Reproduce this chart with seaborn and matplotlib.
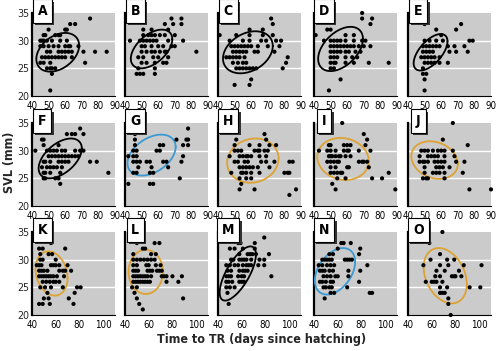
import numpy as np
import pandas as pd
import matplotlib.pyplot as plt
from matplotlib import font_manager as fm
from matplotlib import patheffects as pe
import seaborn as sns

# (days to TR, SVL mm)
A_pts = [(51, 21), (75, 34), (63, 33), (66, 33), (50, 32), (60, 32), (61, 32),
         (47, 31), (48, 31), (54, 31), (56, 31), (57, 31),
         (45, 30), (46, 30), (47, 30), (49, 30), (52, 30), (57, 30), (61, 30),
         (45, 29), (47, 29), (50, 29), (53, 29), (56, 29), (60, 29), (62, 29), (63, 29), (68, 29),
         (49, 28), (51, 28), (56, 28), (58, 28), (60, 28), (62, 28), (64, 28), (71, 28), (78, 28), (85, 28),
         (46, 27), (48, 27), (50, 27), (52, 27), (54, 27), (56, 27), (58, 27), (60, 27), (64, 27),
         (45, 26), (47, 26), (51, 26), (72, 26),
         (49, 25), (51, 25), (52, 25), (54, 25), (52, 24)]
B_pts = [(68, 34), (74, 34), (64, 33), (69, 33), (74, 33),
         (51, 32), (56, 32), (66, 32),
         (51, 31), (54, 31), (56, 31), (58, 31), (61, 31), (64, 31), (70, 31),
         (43, 30), (49, 30), (51, 30), (53, 30), (55, 30), (57, 30), (59, 30), (66, 30), (75, 30),
         (50, 29), (52, 29), (56, 29), (60, 29), (63, 29), (68, 29), (70, 29),
         (50, 28), (53, 28), (56, 28), (58, 28), (61, 28), (64, 28), (65, 28), (83, 28),
         (48, 27), (51, 27), (57, 27), (60, 27), (66, 27),
         (50, 26), (53, 26), (58, 26), (63, 26), (65, 26),
         (48, 25), (58, 25),
         (47, 24), (49, 24), (51, 24), (58, 24)]
C_pts = [(72, 34), (73, 33), (41, 31), (59, 32), (67, 32),
         (51, 31), (59, 31), (67, 31), (73, 31),
         (47, 30), (55, 30), (59, 30), (66, 30), (69, 30), (75, 30), (78, 30),
         (48, 29), (50, 29), (52, 29), (54, 29), (56, 29), (58, 29), (60, 29), (64, 29), (70, 29), (77, 29),
         (49, 28), (51, 28), (53, 28), (55, 28), (57, 28), (62, 28), (64, 28), (74, 28),
         (45, 27), (47, 27), (49, 27), (51, 27), (53, 27), (56, 27), (82, 27),
         (49, 26), (52, 26), (55, 26), (57, 26), (81, 26),
         (51, 25), (53, 25), (55, 25), (57, 25), (59, 25), (61, 25), (63, 25), (79, 25),
         (60, 23), (50, 22), (59, 22)]
D_pts = [(69, 35), (69, 34), (75, 34), (74, 33), (48, 32), (50, 32),
         (41, 31), (59, 31), (64, 31),
         (46, 30), (50, 30), (52, 30), (54, 30), (56, 30), (59, 30), (64, 30), (69, 30), (71, 30),
         (50, 29), (52, 29), (54, 29), (56, 29), (58, 29), (60, 29), (62, 29), (64, 29), (67, 29), (70, 29), (74, 29),
         (50, 28), (52, 28), (54, 28), (56, 28), (59, 28), (61, 28), (65, 28), (68, 28),
         (50, 27), (52, 27), (54, 27), (59, 27), (63, 27), (66, 27),
         (50, 26), (52, 26), (53, 26), (59, 26), (64, 26), (73, 26), (85, 26),
         (50, 25), (52, 25), (56, 23), (49, 21)]
E_pts = [(50, 33), (72, 33), (57, 32), (69, 32), (60, 31),
         (50, 30), (53, 30), (57, 30), (61, 30), (77, 30), (79, 30),
         (49, 29), (51, 29), (53, 29), (55, 29), (57, 29), (59, 29), (64, 29), (68, 29), (74, 29),
         (49, 28), (51, 28), (53, 28), (55, 28), (65, 28), (69, 28), (76, 28),
         (48, 27), (50, 27), (52, 27), (54, 27), (56, 27), (59, 27),
         (50, 26), (52, 26), (54, 26), (56, 26), (59, 26), (64, 26),
         (49, 25), (49, 24), (51, 24), (50, 23), (50, 21)]
F_pts = [(69, 34), (61, 33), (64, 33), (66, 33), (71, 33),
         (46, 32), (47, 32), (47, 31), (56, 31),
         (42, 30), (49, 30), (51, 30), (53, 30), (55, 30), (58, 30), (60, 30), (66, 30), (69, 30), (71, 30),
         (50, 29), (52, 29), (54, 29), (56, 29), (58, 29), (60, 29), (62, 29), (64, 29), (66, 29), (68, 29),
         (47, 28), (48, 28), (51, 28), (56, 28), (58, 28), (60, 28), (62, 28), (75, 28), (79, 28),
         (46, 27), (49, 27), (51, 27), (53, 27), (55, 27), (58, 27),
         (47, 26), (48, 26), (51, 26), (57, 26), (86, 26),
         (47, 25), (48, 25), (54, 25), (56, 25), (57, 24)]
G_pts = [(78, 34), (46, 33), (46, 32), (71, 32), (77, 32), (78, 32),
         (46, 31), (61, 31), (63, 31), (75, 31), (78, 31),
         (45, 30), (47, 30), (59, 30), (61, 30),
         (42, 29), (45, 29), (47, 29), (75, 29),
         (45, 28), (47, 28), (49, 28), (53, 28), (55, 28), (63, 28), (65, 28), (74, 28),
         (48, 27), (56, 27), (66, 27),
         (45, 26), (47, 26), (55, 26), (57, 26),
         (73, 25), (42, 24), (55, 24), (57, 24)]
H_pts = [(68, 33), (69, 32), (71, 31), (51, 32),
         (50, 31), (59, 31), (65, 31), (75, 31),
         (50, 30), (52, 30), (54, 30), (62, 30), (64, 30), (65, 30), (68, 30), (70, 30),
         (47, 29), (53, 29), (55, 29), (57, 29), (58, 29), (60, 29), (65, 29), (69, 29),
         (50, 28), (52, 28), (56, 28), (58, 28), (66, 28), (69, 28), (74, 28), (83, 28), (85, 28),
         (53, 27), (55, 27), (57, 27), (59, 27), (61, 27), (64, 27), (71, 27),
         (48, 26), (54, 26), (55, 26), (57, 26), (60, 26), (65, 26), (80, 26), (82, 26), (83, 26),
         (53, 25), (57, 25), (60, 25),
         (54, 24), (53, 23), (62, 23), (87, 23), (83, 22)]
I_pts = [(57, 35), (70, 33), (72, 32), (49, 31), (50, 31), (58, 31), (60, 31), (62, 31), (71, 31),
         (43, 30), (48, 30), (50, 30), (53, 30), (58, 30), (60, 30), (61, 30), (67, 30), (74, 30),
         (49, 29), (50, 29), (51, 29), (53, 29), (55, 29), (56, 29), (59, 29), (62, 29),
         (48, 28), (50, 28), (52, 28), (54, 28), (55, 28), (67, 28), (69, 28), (70, 28), (72, 28),
         (50, 27), (53, 27), (60, 27), (61, 27), (73, 27),
         (50, 26), (52, 26), (54, 26), (56, 26), (57, 26), (85, 26),
         (54, 25), (59, 25), (75, 25), (81, 25),
         (51, 24), (53, 23), (89, 23)]
J_pts = [(67, 35), (61, 32), (76, 31),
         (48, 30), (50, 30), (52, 30), (55, 30), (58, 30), (60, 30), (62, 30), (67, 30),
         (47, 29), (52, 29), (54, 29), (56, 29), (58, 29), (62, 29), (68, 29),
         (47, 28), (49, 28), (50, 28), (52, 28), (56, 28), (58, 28), (60, 28), (62, 28), (69, 28), (74, 28),
         (50, 27), (57, 27), (59, 27), (61, 27), (65, 27),
         (50, 26), (55, 26), (57, 26), (59, 26), (62, 26), (73, 26),
         (49, 25), (51, 25), (52, 25), (62, 25),
         (77, 23), (90, 23)]
K_pts = [(56, 33), (46, 32), (49, 32), (68, 32),
         (47, 31), (54, 31), (57, 31),
         (47, 30), (49, 30), (60, 30),
         (44, 29), (46, 29), (48, 29), (56, 29), (58, 29), (60, 29), (63, 29), (70, 29),
         (46, 28), (48, 28), (50, 28), (53, 28), (63, 28), (66, 28), (68, 28), (73, 28),
         (46, 27), (48, 27), (50, 27), (52, 27), (54, 27), (56, 27), (58, 27), (61, 27), (67, 27),
         (49, 26), (52, 26), (55, 26), (58, 26), (60, 26), (63, 26),
         (47, 25), (51, 25), (56, 25), (66, 25), (78, 25), (81, 25),
         (53, 24), (76, 24), (50, 23), (54, 23), (71, 23),
         (46, 22), (49, 22), (55, 22), (75, 22)]
L_pts = [(50, 33), (65, 33), (69, 33), (55, 32), (57, 32),
         (47, 31), (62, 31), (66, 31),
         (47, 30), (50, 30), (53, 30), (56, 30), (59, 30), (62, 30), (65, 30),
         (47, 29), (50, 29), (58, 29), (60, 29), (66, 29), (70, 29),
         (47, 28), (49, 28), (51, 28), (59, 28), (61, 28), (63, 28), (67, 28), (69, 28), (71, 28),
         (47, 27), (49, 27), (51, 27), (53, 27), (55, 27), (57, 27), (59, 27), (62, 27), (71, 27),
         (73, 27), (75, 27), (80, 27), (88, 27),
         (47, 26), (49, 26), (51, 26), (53, 26), (55, 26), (57, 26), (59, 26), (61, 26), (75, 26), (85, 26),
         (46, 25), (50, 25), (48, 24), (50, 23), (52, 22), (55, 21), (89, 23)]
M_pts = [(79, 34), (57, 33), (59, 33), (71, 33),
         (50, 32), (54, 32), (61, 32), (71, 32),
         (58, 31), (65, 31), (67, 31), (69, 31), (72, 31), (83, 31),
         (51, 30), (53, 30), (58, 30), (60, 30), (62, 30), (64, 30), (68, 30), (75, 30), (79, 30),
         (47, 29), (50, 29), (54, 29), (57, 29), (61, 29), (64, 29), (66, 29), (68, 29), (74, 29), (79, 29),
         (48, 28), (51, 28), (58, 28), (61, 28), (63, 28), (65, 28),
         (47, 27), (49, 27), (51, 27), (57, 27), (60, 27), (62, 27), (85, 27),
         (47, 26), (49, 26), (52, 26), (58, 26), (60, 26), (62, 26),
         (47, 25), (50, 25), (54, 25), (48, 24), (49, 22)]
N_pts = [(63, 33), (65, 33), (71, 33), (60, 32), (79, 32),
         (53, 31), (56, 31), (78, 31),
         (47, 30), (49, 30), (51, 30), (53, 30), (55, 30), (66, 30), (68, 30), (70, 30), (72, 30),
         (44, 29), (47, 29), (51, 29), (54, 29), (57, 29), (85, 29),
         (45, 28), (47, 28), (49, 28), (53, 28), (56, 28), (69, 28), (79, 28),
         (48, 27), (51, 27), (54, 27), (58, 27), (60, 27), (69, 27),
         (45, 26), (47, 26), (50, 26), (54, 26), (56, 26), (78, 26),
         (48, 25), (50, 25), (53, 25), (55, 25), (68, 25),
         (54, 24), (57, 24), (87, 24), (89, 24), (49, 23)]
O_pts = [(48, 35), (69, 35), (58, 33), (67, 31), (59, 30), (73, 30), (79, 30),
         (53, 29), (67, 29), (74, 29), (87, 29), (102, 29),
         (64, 28), (71, 28), (83, 28),
         (63, 27), (67, 27), (77, 27), (79, 27), (80, 27), (85, 27),
         (55, 26), (60, 26), (62, 26), (64, 26), (69, 26),
         (67, 25), (73, 25), (92, 25), (101, 25),
         (67, 24), (69, 24), (71, 24), (74, 23), (74, 22), (76, 20)]

# ellipse per panel: centre days, centre SVL, half-width days, half-height mm, tilt (correlation)
A_ell = [55.5, 27.9, 12.9, 3.5, 0.35]
B_ell = [56.0, 28.5, 12.5, 3.5, 0.5]
C_ell = [58.0, 27.9, 15.0, 3.8, 0.3]
D_ell = [56.0, 28.5, 13.5, 4.0, 0.45]
E_ell = [53.6, 27.9, 10.2, 3.3, 0.6]
F_ell = [57.0, 28.6, 13.0, 3.6, 0.5]
G_ell = [56.0, 29.2, 14.5, 3.7, 0.4]
H_ell = [61.0, 28.2, 15.5, 4.0, 0.1]
I_ell = [57.5, 28.5, 15.5, 3.8, -0.1]
J_ell = [56.0, 28.3, 14.0, 3.4, -0.2]
K_ell = [56.5, 27.5, 13.5, 4.0, -0.2]
L_ell = [57.5, 27.8, 14.5, 4.0, 0.0]
M_ell = [56.7, 27.5, 15.3, 4.9, 0.7]
N_ell = [57.7, 27.9, 17.0, 4.2, 0.4]
O_ell = [71.4, 27.1, 18.2, 5.0, -0.3]

panel_labels = list("ABCDEFGHIJKLMNO")
ell_groups = ["black"] * 6 + ["blue", "orange", "orange", "orange", "orange", "orange",
                               "black", "blue", "orange"]
y_ticks = [20, 25, 30, 35]
x_ticks_top = [40, 50, 60, 70, 80, 90]
x_ticks_bottom = [40, 60, 80, 100]

all_pts = [A_pts, B_pts, C_pts, D_pts, E_pts, F_pts, G_pts, H_pts,
           I_pts, J_pts, K_pts, L_pts, M_pts, N_pts, O_pts]
all_ell = [A_ell, B_ell, C_ell, D_ell, E_ell, F_ell, G_ell, H_ell,
           I_ell, J_ell, K_ell, L_ell, M_ell, N_ell, O_ell]
colors = {"black": "black", "blue": "#3a9ad4", "orange": "#dda232"}

sns.set_theme(style="white")

# narrow face if there is one, otherwise plain DejaVu at a smaller size
fonts = fm.fontManager.ttflist
names = {f.name for f in fonts}
if "Liberation Sans Narrow" in names:
    plt.rcParams['font.family'] = ['Liberation Sans Narrow', 'DejaVu Sans']
    tick_fs, lab_fs = 7.5, 10
elif any(f.name == "DejaVu Sans" and f.stretch == "condensed" for f in fonts):
    plt.rcParams['font.family'] = ['DejaVu Sans']
    plt.rcParams['font.stretch'] = 'condensed'
    tick_fs, lab_fs = 7, 9
else:
    plt.rcParams['font.family'] = ['DejaVu Sans']
    tick_fs, lab_fs = 6.3, 8.5

fig = plt.figure(figsize=(5, 3.51), dpi=100)
W, H = 500, 351
col_left = [32, 125, 218, 314, 408]
row_top = [13, 123, 232]
aw, ah = 83, 83


def draw_ellipse(ax, cx, cy, rx, ry, rho, color):
    t = np.linspace(0, 2 * np.pi, 200)
    ex = cx + rx * np.cos(t)
    ey = cy + ry * (rho * np.cos(t) + np.sqrt(1 - rho ** 2) * np.sin(t))
    ax.plot(ex, ey, color=color, lw=1.3, zorder=4)


for i, lab in enumerate(panel_labels):
    r, c = divmod(i, 5)
    ax = fig.add_axes([col_left[c] / W, 1 - (row_top[r] + ah) / H, aw / W, ah / H])
    ax.set_facecolor("#cbcbcb")
    df = pd.DataFrame(all_pts[i], columns=["days", "svl"])
    sns.scatterplot(data=df, x="days", y="svl", ax=ax, color="black", s=9,
                    edgecolor="none", linewidth=0, zorder=5, clip_on=False)
    draw_ellipse(ax, *all_ell[i], colors[ell_groups[i]])
    for g in (25, 30):
        ax.axhline(g, color="white", lw=1.0, zorder=1)

    ax.set_ylim(20, 35)
    if r < 2:
        ax.set_xlim(40, 90)
        ax.set_xticks(x_ticks_top)
    else:
        ax.set_xlim(40, 110)
        ax.set_xticks(x_ticks_bottom)
    ax.set_yticks(y_ticks)
    ax.set_xlabel("")
    ax.set_ylabel("")
    ax.tick_params(axis="x", length=2, width=0.6, pad=1.5, labelsize=tick_fs, colors="black")
    if c == 0:
        ax.tick_params(axis="y", length=0, pad=2, labelsize=tick_fs + 0.7)
    else:
        ax.tick_params(axis="y", length=0, labelleft=False)
    for s in ("top", "right"):
        ax.spines[s].set_visible(False)
    ax.spines["left"].set_color("black")
    ax.spines["left"].set_linewidth(1.6)
    ax.spines["bottom"].set_color("black")
    ax.spines["bottom"].set_linewidth(0.8)

    # panel letter in a white box with a drop shadow on the box
    t = ax.text(0.125, 1.02, lab, transform=ax.transAxes, ha="center", va="center",
                fontsize=10, fontweight="bold", color="black", zorder=10, clip_on=False,
                bbox=dict(boxstyle="square,pad=0.35", lw=0.8, facecolor="white", edgecolor="black"))
    t.get_bbox_patch().set_path_effects([
        pe.SimplePatchShadow(offset=(1.5, -1.5), shadow_rgbFace="#333333", alpha=1.0),
        pe.Normal()])

fig.text(10 / W, 1 - 162 / H, "SVL (mm)", rotation=90, ha="center", va="center",
         fontsize=lab_fs, fontweight="bold")
fig.text(262 / W, 1 - 339 / H, "Time to TR (days since hatching)", ha="center", va="center",
         fontsize=lab_fs, fontweight="bold")

fig.savefig("out.png", dpi=100)
